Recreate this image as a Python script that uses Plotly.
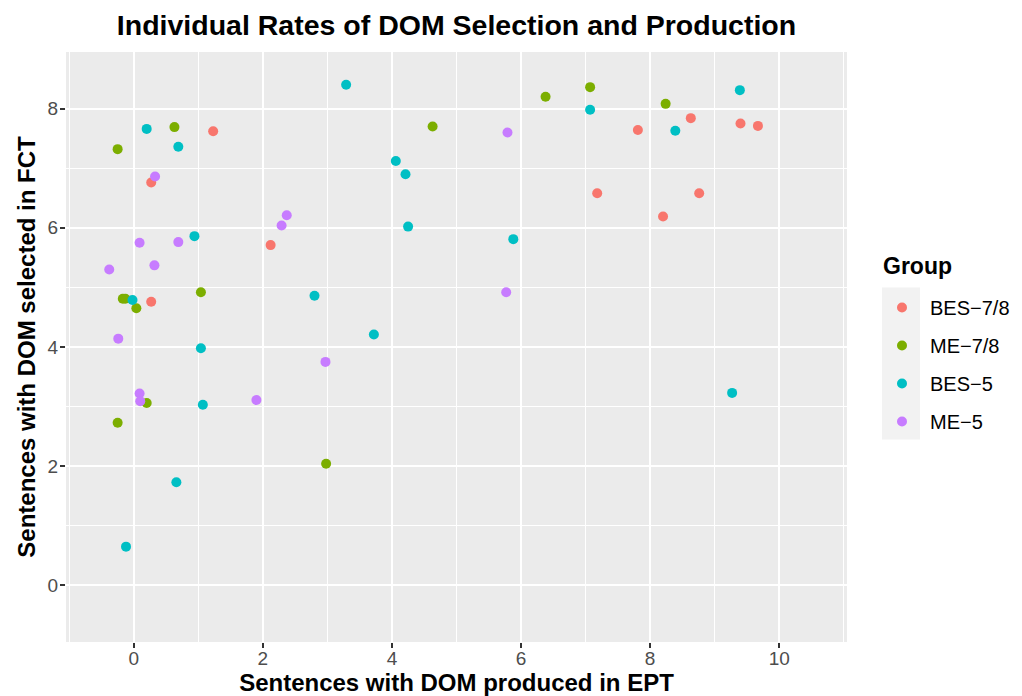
import plotly.graph_objects as go

groups = ["BES−7/8", "ME−7/8", "BES−5", "ME−5"]
colors = ["#F8766D", "#7CAE00", "#00BFC4", "#C77CFF"]

bes78_x = [1.23, 0.27, 2.12, 0.27, 7.81, 8.63, 9.40, 9.67, 7.18, 8.76, 8.20]
bes78_y = [7.62, 6.76, 5.71, 4.76, 7.64, 7.84, 7.75, 7.71, 6.58, 6.58, 6.19]

me78_x = [0.63, -0.25, 1.04, -0.17, -0.13, 0.04, 0.20, -0.25, 2.98, 6.38, 4.63, 7.07, 8.24]
me78_y = [7.69, 7.32, 4.92, 4.81, 4.81, 4.65, 3.06, 2.73, 2.04, 8.20, 7.70, 8.36, 8.08]

bes5_x = [3.29, 0.20, 0.69, 0.94, 2.80, -0.02, 1.04, 1.07, 0.66, -0.12, 4.06, 4.21, 4.25,
          5.88, 3.72, 7.07, 9.39, 8.39, 9.27]
bes5_y = [8.40, 7.66, 7.36, 5.86, 4.86, 4.79, 3.98, 3.03, 1.73, 0.65, 7.12, 6.90, 6.02,
          5.81, 4.21, 7.98, 8.31, 7.63, 3.23]

me5_x = [0.33, 2.37, 2.29, 0.09, 0.69, -0.38, 0.32, -0.24, 2.97, 0.09, 0.10, 1.90, 5.79, 5.77]
me5_y = [6.86, 6.21, 6.04, 5.75, 5.76, 5.30, 5.37, 4.14, 3.75, 3.22, 3.09, 3.11, 7.60, 4.92]

xs = [bes78_x, me78_x, bes5_x, me5_x]
ys = [bes78_y, me78_y, bes5_y, me5_y]

x_ticks = [0, 2, 4, 6, 8, 10]
y_ticks = [0, 2, 4, 6, 8]

FONT = "Liberation Sans, Arial, sans-serif"

fig = go.Figure()
for name, col, x, y in zip(groups, colors, xs, ys):
    fig.add_trace(go.Scatter(
        x=x, y=y, mode="markers", name=name, legendgroup=name,
        marker=dict(color=col, size=10, line=dict(width=0)),
    ))

W, H = 1022, 696
L, R, T, B = 66, 847, 52, 642
pw, ph = R - L, B - T

def px_x(p):
    return (p - L) / pw

def px_y(p):
    return (B - p) / ph

fig.add_shape(type="rect", xref="paper", yref="paper",
              x0=px_x(882), x1=px_x(920), y0=px_y(439.5), y1=px_y(287.5),
              fillcolor="#F2F2F2", line=dict(width=0), layer="below")

fig.add_annotation(text="Group", xref="paper", yref="paper",
                   x=px_x(881), y=px_y(266), xanchor="left", yanchor="middle",
                   showarrow=False,
                   font=dict(family=FONT, size=23, color="black", weight="bold"))

axis_common = dict(
    showline=False, zeroline=False, ticks="outside", ticklen=5, tickwidth=2,
    tickcolor="#333333", gridcolor="white", gridwidth=2, automargin=False,
    tickfont=dict(family=FONT, size=19, color="#4D4D4D"),
    minor=dict(showgrid=True, gridcolor="white", gridwidth=1, dtick=1, tick0=0, ticks=""),
)

fig.update_layout(
    width=W, height=H,
    margin=dict(l=L, r=W - R, t=T, b=H - B, pad=0, autoexpand=False),
    paper_bgcolor="white", plot_bgcolor="#EBEBEB",
    font=dict(family=FONT),
    title=dict(text="Individual Rates of DOM Selection and Production",
               font=dict(family=FONT, size=28.5, color="black", weight="bold"),
               x=0.5, xref="paper", xanchor="center",
               y=1 - 25 / H, yref="container", yanchor="middle"),
    xaxis=dict(range=[-1.05, 11.05], tickvals=x_ticks, ticktext=[str(v) for v in x_ticks],
               ticklabelstandoff=-6,
               title=dict(text="Sentences with DOM produced in EPT",
                          font=dict(family=FONT, size=24, color="black", weight="bold"),
                          standoff=10),
               **axis_common),
    yaxis=dict(range=[-0.95, 8.95], tickvals=y_ticks, ticktext=[str(v) for v in y_ticks],
               ticklabelstandoff=-2,
               title=dict(text="Sentences with DOM selected in FCT",
                          font=dict(family=FONT, size=24, color="black", weight="bold"),
                          standoff=5),
               **axis_common),
    legend=dict(
        font=dict(family=FONT, size=20, color="black"),
        xref="container", yref="container", x=874 / W, y=1 - 288 / H,
        xanchor="left", yanchor="top", bgcolor="rgba(0,0,0,0)",
        tracegroupgap=9, itemwidth=46,
    ),
    showlegend=True,
)

fig.write_html("out.html", config={"displayModeBar": False},
               post_script="document.body.style.margin='0px';document.body.style.overflow='hidden';")
